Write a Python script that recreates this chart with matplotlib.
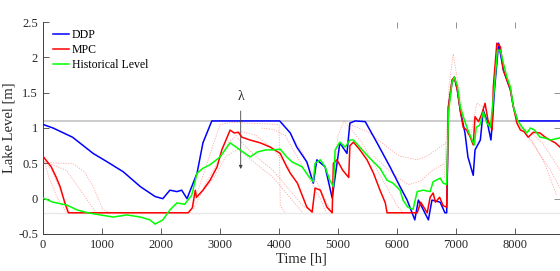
import numpy as np
import matplotlib
matplotlib.use("Agg")
import matplotlib.pyplot as plt
from matplotlib.ticker import FuncFormatter

plt.rcParams['font.family'] = ['Liberation Serif', 'DejaVu Serif']
plt.rcParams['axes.unicode_minus'] = False

# DDP trajectory
ddp_t = [0, 170, 500, 850, 1090, 1360, 1650, 1900, 2030, 2150, 2270, 2350, 2440,
         2610, 2710, 2860, 4010, 4190, 4300, 4470, 4580, 4640, 4780, 4900, 4950,
         5030, 5150, 5200, 5290, 5460, 5660, 5880, 6050, 6170, 6300, 6360, 6530,
         6590, 6730, 6810, 6840, 6870, 6930, 6970, 7020, 7070, 7150, 7200, 7290,
         7320, 7410, 7460, 7520, 7590, 7620, 7650, 7720, 7800, 7860, 7920, 7970,
         8040, 8760]
ddp_v = [1.05, 1.0, 0.87, 0.64, 0.52, 0.38, 0.17, 0.03, 0.0, 0.12, 0.1, 0.12, 0.0,
         0.36, 0.79, 1.1, 1.1, 0.93, 0.73, 0.52, 0.22, 0.55, 0.45, 0.01, 0.31,
         0.79, 0.64, 1.07, 1.1, 1.09, 0.79, 0.45, 0.17, -0.02, -0.3, -0.02, -0.3,
         -0.02, -0.05, -0.2, -0.2, 1.3, 1.64, 1.72, 1.54, 1.25, 0.93, 0.59, 0.33,
         0.69, 0.83, 1.25, 1.11, 0.83, 1.16, 1.54, 2.2, 1.82, 1.68, 1.54, 1.3,
         1.1, 1.1]

# MPC trajectory
mpc_t = [0, 140, 220, 290, 370, 430, 2460, 2530, 2580, 2600, 2710, 2830, 2950,
         3030, 3120, 3170, 3240, 3310, 3370, 3510, 3680, 3850, 4020, 4130, 4190,
         4310, 4470, 4560, 4610, 4700, 4810, 4900, 4920, 4980, 5080, 5180, 5200,
         5260, 5370, 5490, 5600, 5710, 5800, 5830, 6340, 6400, 6510, 6560, 6610,
         6650, 6720, 6780, 6840, 6870, 6930, 6970, 7020, 7070, 7120, 7180, 7240,
         7290, 7320, 7380, 7440, 7490, 7540, 7610, 7630, 7690, 7750, 7800, 7860,
         7920, 7970, 8030, 8090, 8150, 8220, 8310, 8420, 8510, 8590, 8680, 8760]
mpc_v = [0.6, 0.45, 0.31, 0.17, -0.06, -0.2, -0.2, -0.13, 0.12, 0.02, 0.12, 0.26,
         0.45, 0.69, 0.87, 0.97, 0.93, 0.94, 0.87, 0.83, 0.79, 0.73, 0.64, 0.45,
         0.36, 0.22, -0.12, -0.19, 0.15, 0.12, -0.12, -0.2, 0.5, 0.55, 0.4, 0.3,
         0.75, 0.8, 0.69, 0.55, 0.36, 0.12, -0.06, -0.2, -0.2, -0.05, -0.2, 0.02,
         0.08, -0.05, 0.02, -0.1, -0.12, 1.3, 1.68, 1.72, 1.54, 1.25, 1.01, 0.97,
         0.87, 0.76, 1.16, 1.09, 1.21, 1.35, 1.11, 0.97, 1.58, 2.2, 2.15, 1.82,
         1.68, 1.54, 1.3, 1.07, 0.97, 0.95, 0.87, 0.94, 0.93, 0.87, 0.83, 0.79, 0.73]

# historical level
hist_t = [0, 170, 400, 580, 760, 970, 1190, 1420, 1650, 1810, 1900, 2030, 2150,
          2270, 2400, 2520, 2610, 2710, 2830, 3000, 3170, 3340, 3510, 3630, 3770,
          3900, 4020, 4130, 4220, 4390, 4490, 4580, 4610, 4700, 4780, 4860, 4920,
          4950, 5030, 5120, 5200, 5260, 5410, 5540, 5710, 5830, 5930, 6050, 6100,
          6180, 6270, 6340, 6440, 6560, 6610, 6730, 6780, 6840, 6870, 6930, 6970,
          7020, 7070, 7120, 7200, 7270, 7310, 7340, 7400, 7460, 7520, 7580, 7640,
          7700, 7750, 7800, 7860, 7920, 7970, 8040, 8120, 8200, 8260, 8330, 8420,
          8500, 8600, 8760]
hist_v = [0.01, -0.05, -0.09, -0.16, -0.2, -0.23, -0.26, -0.23, -0.26, -0.3, -0.36,
          -0.3, -0.16, -0.06, -0.08, 0.05, 0.36, 0.43, 0.48, 0.59, 0.79, 0.69,
          0.59, 0.66, 0.69, 0.69, 0.7, 0.59, 0.52, 0.45, 0.33, 0.24, 0.5, 0.55,
          0.45, 0.26, 0.17, 0.69, 0.8, 0.73, 0.83, 0.83, 0.69, 0.57, 0.43, 0.26,
          0.22, 0.12, -0.02, -0.12, -0.15, 0.1, 0.12, 0.1, 0.24, 0.29, 0.22, 0.2,
          1.21, 1.64, 1.72, 1.6, 1.3, 1.16, 0.97, 0.83, 0.76, 1.01, 1.04, 1.23,
          1.07, 1.01, 1.5, 2.1, 2.1, 1.92, 1.72, 1.58, 1.3, 1.11, 1.01, 0.93, 1.0,
          0.97, 0.87, 0.86, 0.83, 0.86]

# MPC forecast runs (hours, level)
forecasts = [
    ([0, 300, 500, 700, 850, 1020, 1150], [0.52, 0.5, 0.5, 0.38, 0.17, -0.16, -0.2]),
    ([0, 100, 250, 400], [0.6, 0.3, 0.0, -0.2]),
    ([0, 150, 300, 450], [0.55, 0.4, 0.1, -0.2]),
    ([100, 400, 650, 900], [0.5, 0.4, 0.1, -0.2]),
    ([2500, 2700, 2900, 3000, 3200, 4000, 4020, 4100], [-0.2, 0.3, 0.8, 1.05, 1.08, 1.05, -0.1, -0.2]),
    ([2550, 2750, 2950, 3150, 3350, 3600, 3900, 4200], [-0.15, 0.2, 0.5, 0.8, 0.95, 0.9, 0.7, 0.4]),
    ([2600, 2900, 3100, 3300, 3600, 3900, 4200, 4400], [0.0, 0.3, 0.6, 0.7, 0.5, 0.3, 0.0, -0.2]),
    ([3300, 3600, 3900, 4100, 4400, 4600], [0.85, 0.6, 0.4, 0.2, -0.1, -0.2]),
    ([3700, 3900, 4100, 4300, 4500, 4700, 4800], [1.0, 0.98, 0.9, 0.6, 0.3, 0.0, -0.2]),
    ([4200, 4400, 4600, 4800, 4900], [0.9, 0.65, 0.3, -0.05, -0.2]),
    ([4920, 5000, 5100, 5200, 5400, 5600, 5800, 6000, 6100], [0.3, 0.9, 1.1, 1.0, 0.8, 0.5, 0.2, -0.1, -0.2]),
    ([5200, 5500, 5800, 6050, 6340, 6500, 6680, 6840], [1.05, 0.95, 0.75, 0.6, 0.55, 0.6, 0.7, 0.8]),
    ([5600, 5800, 6000, 6200, 6400, 6600, 6800], [0.6, 0.45, 0.3, 0.2, 0.25, 0.4, 0.5]),
    ([6800, 6880, 6950, 7000, 7100, 7200], [0.3, 1.6, 2.05, 1.8, 1.3, 0.9]),
    ([7250, 7350, 7450, 7550], [0.9, 1.35, 1.3, 1.0]),
    ([8000, 8200, 8400, 8600, 8760], [1.1, 0.9, 0.65, 0.4, 0.15]),
    ([8050, 8250, 8450, 8650, 8760], [1.05, 0.95, 0.8, 0.55, 0.4]),
    ([8100, 8300, 8500, 8700], [1.0, 0.8, 0.5, 0.05]),
]

upper_bound = 1.1
lower_bound = -0.2

fig = plt.figure(figsize=(5.6, 2.71), dpi=100)
ax = fig.add_axes([43 / 560, 37 / 271, 517 / 560, 212 / 271])

ax.axhline(upper_bound, color='#c8c8c8', lw=1.3, zorder=1)
ax.axhline(lower_bound, color='#e8e8e8', lw=1.0, zorder=1)

for ft, fv in forecasts:
    ax.plot(ft, fv, color='#ff6060', lw=0.6, ls=(0, (1.5, 1.5)), alpha=0.55, zorder=2)

ax.plot(ddp_t, ddp_v, color='#0000ff', lw=1.1, label='DDP', zorder=3)
ax.plot(mpc_t, mpc_v, color='#ff0000', lw=1.1, label='MPC', zorder=4)
ax.plot(hist_t, hist_v, color='#00ff00', lw=1.1, label='Historical Level', zorder=5)

ax.annotate('λ', xy=(3350, 0.42), xytext=(3350, 1.45), ha='center', va='center',
            fontsize=10, color='#262626',
            arrowprops=dict(arrowstyle='-|>', color='#404040', lw=0.6,
                            mutation_scale=5, shrinkA=4, shrinkB=0))

ax.set_xlim(0, 8760)
ax.set_ylim(-0.5, 2.5)
ax.set_xticks(np.arange(0, 8001, 1000))
ax.set_yticks(np.arange(-0.5, 2.51, 0.5))
ax.yaxis.set_major_formatter(FuncFormatter(lambda v, p: '%g' % v))
ax.tick_params(direction='in', length=4, width=0.6, color='#404040',
               labelsize=9, labelcolor='#262626')
for s in ['top', 'right']:
    ax.spines[s].set_visible(False)
for s in ['left', 'bottom']:
    ax.spines[s].set_color('#404040')
    ax.spines[s].set_linewidth(0.7)

top = ax.secondary_xaxis('top')
top.set_xticks([6000, 7000, 8000])
top.set_xticklabels([])
top.tick_params(direction='in', length=4, width=0.6, color='#808080')
top.spines['top'].set_visible(False)
right = ax.secondary_yaxis('right')
right.set_yticks([0, 1, 1.5])
right.set_yticklabels([])
right.tick_params(direction='in', length=4, width=0.6, color='#808080')
right.spines['right'].set_visible(False)

ax.set_xlabel('Time [h]', fontsize=10.5, color='#262626', labelpad=1)
ax.set_ylabel('Lake Level [m]', fontsize=10.5, color='#262626', labelpad=2)

ax.legend(loc='upper left', bbox_to_anchor=(0.005, 1.0), frameon=False,
          fontsize=8.5, handlelength=1.4, handletextpad=0.2, labelspacing=0.25,
          borderaxespad=0.2)

fig.savefig('out.png', dpi=100)
